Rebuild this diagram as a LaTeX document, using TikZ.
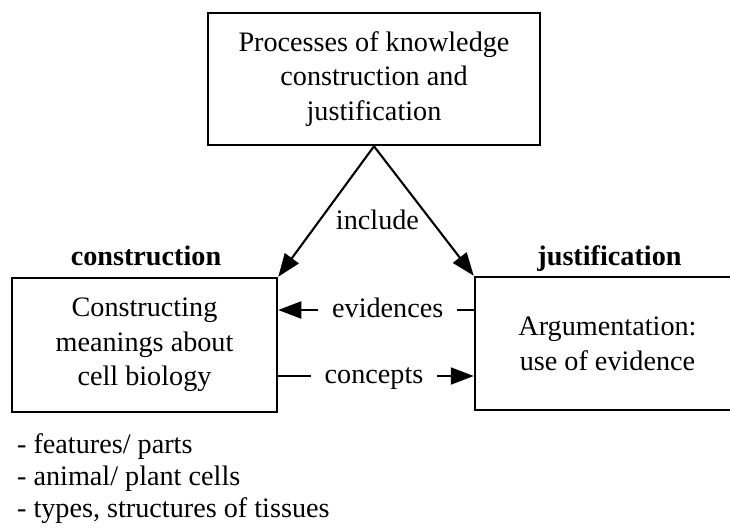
\documentclass[tikz,border=0pt]{standalone}
\usepackage{fontspec}
\setmainfont{Liberation Serif}
\usetikzlibrary{arrows.meta}
\begin{document}
\begin{tikzpicture}[x=0.5pt,y=-0.5pt,
  every node/.style={font=\fontsize{14.1pt}{17.3pt}\selectfont},
  box/.style={draw,line width=1.25pt,inner sep=0pt,align=center},
  link/.style={line width=1.05pt,-{Triangle[length=11.5pt,width=8.5pt]}},
  tag/.style={font=\fontsize{14.1pt}{17.3pt}\selectfont\bfseries,anchor=base},
  lbl/.style={fill=white,inner xsep=7pt,inner ysep=0pt,text height=9pt,text depth=2pt},
  item/.style={anchor=base west,inner sep=0pt}]
\useasboundingbox (0,0) rectangle (730,527);

% boxes
\node[box,minimum width=166pt,minimum height=66pt] (proc) at (374,79)
  {Processes of knowledge\\construction and\\justification};
\node[box,minimum width=132.5pt,minimum height=67pt] (cons) at (144.5,345)
  {Constructing\\meanings about\\cell biology};
\node[box,minimum width=132.5pt,minimum height=66.5pt] (just) at (607.5,343.5)
  {Argumentation:\\use of evidence};

% headings above the lower boxes
\node[tag] (hcons) at (146,265) {construction};
\node[tag] (hjust) at (609.5,265) {justification};

% links from the top box
\draw[link] (proc.south) -- (cons.north east);
\draw[link] (proc.south) -- (just.north west);
\node[anchor=base] (inc) at (377.5,229) {include};

% exchanges between the lower boxes
\coordinate (ev) at (0,310);
\coordinate (co) at (0,376);
\draw[link] (just.west |- ev) -- node[lbl,pos=0.44] (evlbl) {evidences} (cons.east |- ev);
\draw[link] (cons.east |- co) -- node[lbl,pos=0.49] (colbl) {concepts} (just.west |- co);

% topic list
\node[item] (i1) at (16.7,453) {- features/ parts};
\node[item] (i2) at (16.7,485) {- animal/ plant cells};
\node[item] (i3) at (16.7,517) {- types, structures of tissues};
\end{tikzpicture}
\end{document}
